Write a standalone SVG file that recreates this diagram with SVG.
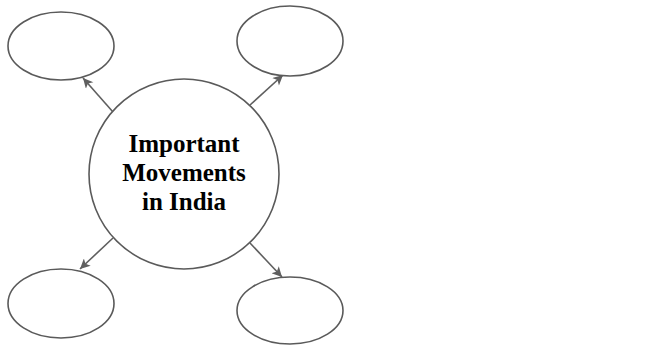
<svg xmlns="http://www.w3.org/2000/svg" width="647" height="345" viewBox="0 0 647 345">
<defs>
<style>
.node{fill:#fff;stroke:#5a5a5a;stroke-width:1.6}
.conn{stroke:#5f5f5f;stroke-width:1.6;fill:none;marker-end:url(#ah)}
.lbl{font-family:"Liberation Serif","Times New Roman",serif;font-weight:bold;font-size:25px;fill:#000;text-anchor:middle}
</style>
<marker id="ah" viewBox="0 0 10 10" refX="10" refY="5" markerWidth="11" markerHeight="10" markerUnits="userSpaceOnUse" orient="auto">
<path d="M0,0 L10,5 L0,10 L2.5,5 Z" fill="#5f5f5f"/>
</marker>
</defs>
<rect width="647" height="345" fill="#fff"/>
<g id="connectors">
<line class="conn" x1="113" y1="112" x2="83" y2="78"/>
<line class="conn" x1="250" y1="105" x2="283" y2="75"/>
<line class="conn" x1="113" y1="238" x2="80" y2="269"/>
<line class="conn" x1="250" y1="243" x2="282" y2="277"/>
</g>
<g id="center">
<circle class="node" cx="184" cy="174" r="95"/>
<text class="lbl" x="184" y="152">Important</text>
<text class="lbl" x="184" y="181">Movements</text>
<text class="lbl" x="184" y="210">in India</text>
</g>
<g id="topLeft"><ellipse class="node" cx="61" cy="46" rx="53" ry="34"/></g>
<g id="topRight"><ellipse class="node" cx="290" cy="41" rx="53" ry="35"/></g>
<g id="bottomLeft"><ellipse class="node" cx="61" cy="303.5" rx="53" ry="34.5"/></g>
<g id="bottomRight"><ellipse class="node" cx="290" cy="310.5" rx="53" ry="33.5"/></g>
</svg>
